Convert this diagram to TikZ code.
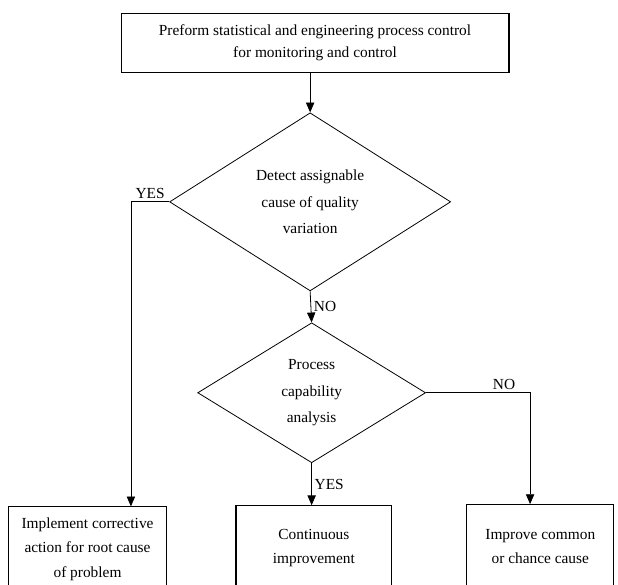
\documentclass[tikz,border=0pt]{standalone}
\usepackage{fontspec}
\setmainfont{Liberation Serif}
\usetikzlibrary{shapes.geometric, arrows.meta, positioning, calc}

\begin{document}
\begin{tikzpicture}[
    task/.style={rectangle, draw, thick, align=center, inner sep=0pt, font=\fontsize{11.6}{16.5}\selectfont},
    result/.style={rectangle, draw, thick, align=center, inner sep=0pt, minimum height=2.23cm, font=\fontsize{11.6}{18.5}\selectfont},
    decision/.style={diamond, draw, semithick, align=center, inner sep=0pt, font=\fontsize{11.6}{20}\selectfont},
    arrow/.style={-{Triangle[length=2.6mm, width=2.2mm]}, semithick},
    lbl/.style={font=\fontsize{11.6}{13}\selectfont, inner sep=2pt}
]
\clip (0, 0) rectangle (16.38, 15.50);
\useasboundingbox (0, 0) rectangle (16.38, 15.50);

\node[task, minimum width=10.28cm, minimum height=1.54cm] (spc) at (8.35, 14.36)
    {Preform statistical and engineering process control\\for monitoring and control};

\node[decision, minimum width=7.45cm, minimum height=4.72cm] (cause) at (8.22, 10.15)
    {Detect assignable\\cause of quality\\variation};
\node[decision, minimum width=6.04cm, minimum height=3.71cm] (capab) at (8.26, 5.09)
    {Process\\capability\\analysis};

\node[result, minimum width=4.21cm] (correct) at (2.32, 0.95)
    {Implement corrective\\action for root cause\\of problem};
\node[result, minimum width=4.13cm] (contin)  at (8.32, 0.98)
    {Continuous\\improvement};
\node[result, minimum width=3.90cm] (common)  at (14.32, 1.01)
    {Improve common\\or chance cause};

\coordinate (yesturn) at (3.47, 10.15);
\coordinate (noturn)  at (14.05, 5.09);

% Edges
\draw[arrow] (cause.north |- spc.south) -- (cause.north);
\draw[arrow] (cause.west) -- node[lbl, above] {YES} (yesturn) -- (yesturn |- correct.north);
\draw[arrow] (cause.south) -- node[lbl, right] {NO} (capab.north);
\draw[arrow] (capab.east) -- node[lbl, above, pos=0.75] {NO} (noturn) -- (noturn |- common.north);
\draw[arrow] (capab.south) -- node[lbl, right] {YES} (capab.south |- contin.north);

\end{tikzpicture}
\end{document}
